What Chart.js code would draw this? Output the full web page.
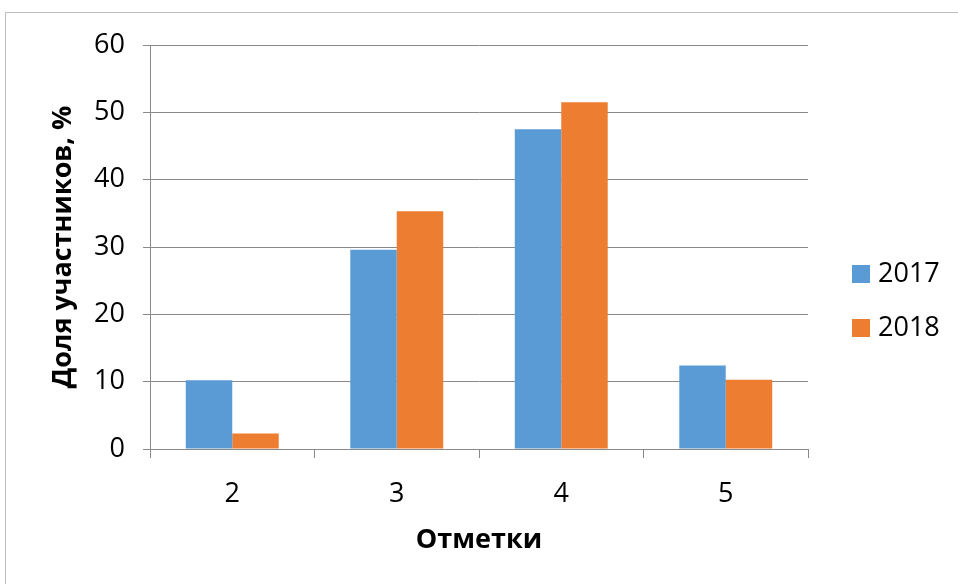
<!DOCTYPE html>
<html>
<head>
<meta charset="utf-8">
<script src="https://cdn.jsdelivr.net/npm/chart.js@4/dist/chart.umd.min.js"></script>
<style>
  html, body { margin: 0; padding: 0; background: #ffffff; }
  #wrap { position: relative; width: 958px; height: 584px; overflow: hidden; }
  #frame { position: absolute; left: 5px; top: 12px; width: 1200px; height: 1000px; border: 1px solid #bfbfbf; box-sizing: border-box; }
  #chart { position: absolute; left: 0; top: 0; }
  #legend { position: absolute; left: 852px; top: 258px; font-family: "Open Sans", sans-serif; font-size: 27px; color: #000; }
  .li { position: relative; height: 54px; }
  .sw { position: absolute; left: 0; top: 7px; width: 18px; height: 18px; }
  .lt { position: absolute; left: 26px; top: -4px; line-height: 36px; white-space: nowrap; }
</style>
</head>
<body>
<div id="wrap">
  <div id="frame"></div>
  <canvas id="chart" width="958" height="584"></canvas>
  <div id="legend"></div>
</div>
<script>
const categories = ['2', '3', '4', '5'];
const seriesNames = ['2017', '2018'];
const values2017 = [10.2, 29.6, 47.5, 12.4];
const values2018 = [2.3, 35.3, 51.5, 10.3];
const seriesColors = ['#5B9BD5', '#ED7D31'];
const yAxisTitle = 'Доля участников, %';
const xAxisTitle = 'Отметки';

const gridColor = '#898989';
const fontFamily = '"Open Sans", sans-serif';

const ctx = document.getElementById('chart');
const chart = new Chart(ctx, {
  type: 'bar',
  data: {
    labels: categories,
    datasets: [
      { label: seriesNames[0], data: values2017, backgroundColor: seriesColors[0], borderWidth: 0, categoryPercentage: 0.565, barPercentage: 1.0 },
      { label: seriesNames[1], data: values2018, backgroundColor: seriesColors[1], borderWidth: 0, categoryPercentage: 0.565, barPercentage: 1.0 }
    ]
  },
  options: {
    responsive: false,
    animation: false,
    layout: { padding: { left: 0, right: 150, top: 45, bottom: 0 } },
    plugins: {
      legend: { display: false },
      tooltip: { enabled: false }
    },
    scales: {
      x: {
        grid: { offset: true, drawOnChartArea: false, drawTicks: true, tickLength: 9, color: gridColor, lineWidth: 1 },
        border: { display: true, color: gridColor, width: 1 },
        ticks: { color: '#000', font: { family: fontFamily, size: 27 }, padding: 20 },
        title: { display: true, text: xAxisTitle, color: '#000', font: { family: fontFamily, size: 27, weight: 'bold' }, padding: { top: 0, bottom: 27 } },
        afterFit: s => { s.height = 135; }
      },
      y: {
        min: 0, max: 60,
        ticks: { stepSize: 10, color: '#000', font: { family: fontFamily, size: 27 }, padding: 18 },
        grid: { color: gridColor, lineWidth: 1, tickLength: 7 },
        border: { display: true, color: gridColor, width: 1 },
        title: { display: true, text: yAxisTitle, color: '#000', font: { family: fontFamily, size: 27, weight: 'bold' }, padding: { top: 47, bottom: 0 } },
        afterFit: s => { s.width = 150; }
      }
    }
  }
});

const legendEl = document.getElementById('legend');
chart.data.datasets.forEach(ds => {
  const item = document.createElement('div');
  item.className = 'li';
  const sw = document.createElement('div');
  sw.className = 'sw';
  sw.style.background = ds.backgroundColor;
  const t = document.createElement('div');
  t.className = 'lt';
  t.textContent = ds.label;
  item.appendChild(sw);
  item.appendChild(t);
  legendEl.appendChild(item);
});
</script>
</body>
</html>
